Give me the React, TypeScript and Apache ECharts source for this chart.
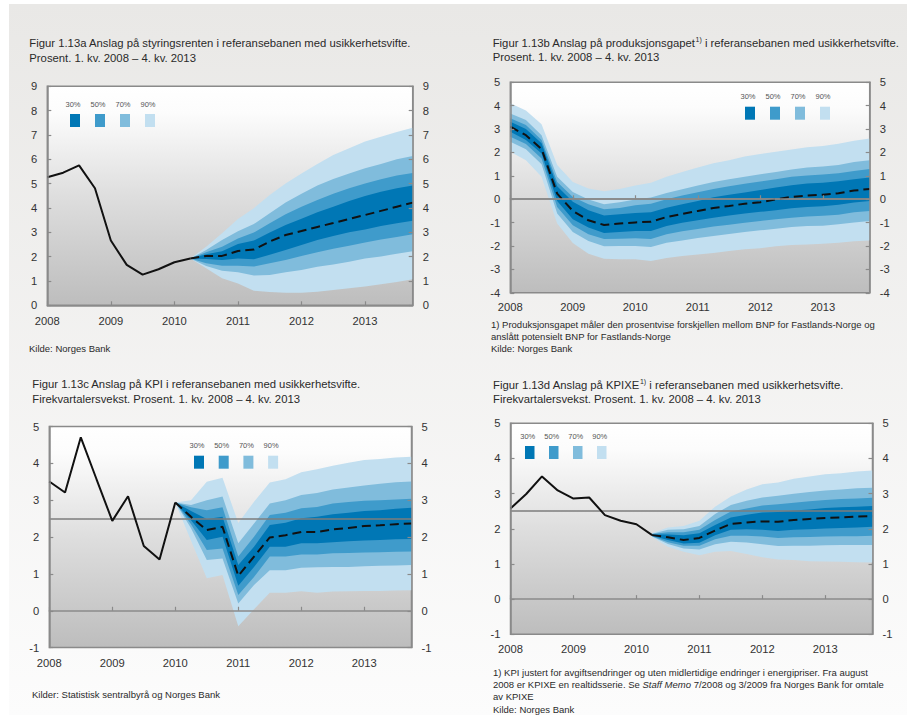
import React, { useEffect, useRef } from 'react';
import * as echarts from 'echarts';

const FONT = '"Liberation Sans", Arial, Helvetica, sans-serif';

const years = ['2008', '2009', '2010', '2011', '2012', '2013'];
const quarterNames = ['1. kv.', '2. kv.', '3. kv.', '4. kv.'];
const bandLabels = ['30%', '50%', '70%', '90%'];
const bandColors = ['#0077b5', '#3f9bcb', '#80bcdc', '#c2dff0'];

// Figur 1.13a – styringsrenten
const aHistory = [5.26, 5.45, 5.75, 4.81, 2.66, 1.66, 1.26, 1.48, 1.77, 1.92];
const aStart = 9;
const aMedian = [1.92, 2.03, 2.03, 2.23, 2.29, 2.62, 2.89, 3.05, 3.22, 3.38, 3.55, 3.71, 3.88, 4.05, 4.22];
const aUp90 = [1.92, 2.41, 2.96, 3.55, 3.99, 4.53, 5.01, 5.42, 5.81, 6.18, 6.45, 6.73, 6.93, 7.12, 7.30];
const aUp70 = [1.92, 2.27, 2.68, 3.04, 3.34, 3.78, 4.22, 4.58, 4.92, 5.19, 5.42, 5.63, 5.81, 6.00, 6.14];
const aUp50 = [1.92, 2.18, 2.41, 2.75, 2.99, 3.37, 3.74, 4.05, 4.33, 4.58, 4.81, 5.01, 5.18, 5.33, 5.44];
const aUp30 = [1.92, 2.10, 2.22, 2.52, 2.66, 2.99, 3.30, 3.56, 3.82, 4.05, 4.29, 4.49, 4.67, 4.81, 4.92];
const aLo30 = [1.92, 1.90, 1.86, 1.92, 1.89, 2.08, 2.27, 2.48, 2.68, 2.85, 3.00, 3.12, 3.26, 3.37, 3.47];
const aLo50 = [1.92, 1.73, 1.63, 1.63, 1.59, 1.73, 1.86, 2.03, 2.18, 2.32, 2.45, 2.58, 2.70, 2.81, 2.92];
const aLo70 = [1.92, 1.62, 1.42, 1.36, 1.22, 1.25, 1.36, 1.45, 1.58, 1.68, 1.79, 1.92, 2.01, 2.12, 2.22];
const aLo90 = [1.92, 1.52, 1.11, 0.90, 0.60, 0.55, 0.52, 0.52, 0.56, 0.63, 0.70, 0.77, 0.86, 0.96, 1.07];

// Figur 1.13b – produksjonsgapet
const bHistory: number[] = [];
const bStart = 0;
const bMedian = [3.10, 2.74, 2.15, 0.24, -0.50, -0.90, -1.10, -1.04, -0.99, -0.96, -0.76, -0.63, -0.50, -0.37, -0.29, -0.19, -0.13, 0.00, 0.10, 0.16, 0.19, 0.26, 0.37, 0.44];
const bUp90 = [4.10, 3.79, 3.21, 1.46, 0.74, 0.46, 0.34, 0.44, 0.59, 0.70, 0.96, 1.16, 1.36, 1.54, 1.67, 1.83, 1.93, 2.03, 2.13, 2.22, 2.28, 2.37, 2.50, 2.60];
const bUp70 = [3.67, 3.39, 2.74, 0.96, 0.31, -0.01, -0.21, -0.13, -0.01, 0.07, 0.27, 0.43, 0.59, 0.74, 0.86, 0.96, 1.07, 1.17, 1.27, 1.36, 1.40, 1.46, 1.59, 1.67];
const bUp50 = [3.46, 3.17, 2.53, 0.74, 0.10, -0.21, -0.43, -0.37, -0.26, -0.19, 0.00, 0.16, 0.30, 0.44, 0.56, 0.66, 0.76, 0.86, 0.96, 1.01, 1.06, 1.11, 1.21, 1.29];
const bUp30 = [3.31, 3.00, 2.39, 0.56, -0.11, -0.47, -0.69, -0.64, -0.59, -0.56, -0.36, -0.21, -0.07, 0.09, 0.19, 0.29, 0.39, 0.50, 0.60, 0.67, 0.71, 0.77, 0.86, 0.93];
const bLo30 = [2.89, 2.53, 1.96, -0.07, -0.86, -1.21, -1.44, -1.40, -1.36, -1.36, -1.14, -1.01, -0.90, -0.79, -0.70, -0.61, -0.54, -0.47, -0.39, -0.33, -0.30, -0.24, -0.14, -0.07];
const bLo50 = [2.67, 2.36, 1.74, -0.33, -1.11, -1.50, -1.70, -1.69, -1.67, -1.70, -1.50, -1.37, -1.27, -1.17, -1.09, -1.00, -0.93, -0.86, -0.79, -0.74, -0.71, -0.66, -0.56, -0.50];
const bLo70 = [2.46, 2.14, 1.50, -0.61, -1.40, -1.79, -2.01, -2.00, -2.00, -2.04, -1.86, -1.76, -1.66, -1.57, -1.49, -1.40, -1.33, -1.26, -1.19, -1.14, -1.13, -1.07, -0.99, -0.93];
const bLo90 = [2.03, 1.67, 0.96, -1.04, -1.87, -2.33, -2.54, -2.57, -2.57, -2.64, -2.51, -2.43, -2.36, -2.30, -2.21, -2.14, -2.09, -2.01, -1.96, -1.93, -1.90, -1.86, -1.80, -1.76];

// Figur 1.13c – KPI
const cHistory = [3.51, 3.21, 4.71, 3.57, 2.44, 3.11, 1.76, 1.39, 2.94];
const cStart = 8;
const cMedian = [2.94, 2.55, 2.19, 2.28, 0.95, 1.47, 1.99, 2.05, 2.14, 2.14, 2.21, 2.25, 2.30, 2.32, 2.35, 2.37];
const cUp90 = [2.94, 3.00, 3.50, 3.61, 2.38, 2.96, 3.48, 3.57, 3.76, 3.84, 3.94, 4.02, 4.09, 4.12, 4.16, 4.18];
const cUp70 = [2.94, 2.87, 3.00, 3.10, 1.83, 2.37, 2.91, 3.00, 3.14, 3.20, 3.29, 3.35, 3.40, 3.45, 3.49, 3.51];
const cUp50 = [2.94, 2.81, 2.73, 2.81, 1.47, 2.01, 2.60, 2.66, 2.78, 2.82, 2.91, 2.95, 2.99, 3.00, 3.02, 3.04];
const cUp30 = [2.94, 2.71, 2.49, 2.55, 1.24, 1.74, 2.33, 2.39, 2.51, 2.55, 2.62, 2.66, 2.71, 2.73, 2.77, 2.80];
const cLo30 = [2.94, 2.46, 1.92, 2.01, 0.68, 1.19, 1.74, 1.74, 1.83, 1.83, 1.86, 1.89, 1.91, 1.92, 1.94, 1.95];
const cLo50 = [2.94, 2.35, 1.65, 1.69, 0.43, 0.92, 1.47, 1.47, 1.53, 1.53, 1.56, 1.57, 1.58, 1.59, 1.60, 1.61];
const cLo70 = [2.94, 2.24, 1.38, 1.42, 0.20, 0.70, 1.10, 1.10, 1.17, 1.18, 1.19, 1.19, 1.21, 1.22, 1.23, 1.24];
const cLo90 = [2.94, 1.90, 0.88, 0.97, -0.42, 0.04, 0.49, 0.49, 0.53, 0.49, 0.52, 0.53, 0.54, 0.54, 0.55, 0.56];

// Figur 1.13d – KPIXE
const dHistory = [2.58, 2.99, 3.49, 3.09, 2.86, 2.89, 2.39, 2.23, 2.13, 1.82];
const dStart = 9;
const dMedian = [1.82, 1.76, 1.68, 1.74, 1.95, 2.14, 2.18, 2.21, 2.20, 2.25, 2.28, 2.31, 2.32, 2.35, 2.36];
const dUp90 = [1.88, 2.04, 2.08, 2.23, 2.63, 2.92, 3.12, 3.27, 3.32, 3.42, 3.49, 3.55, 3.58, 3.63, 3.66];
const dUp70 = [1.86, 1.97, 1.99, 2.08, 2.42, 2.68, 2.80, 2.89, 2.94, 3.00, 3.05, 3.09, 3.12, 3.15, 3.17];
const dUp50 = [1.85, 1.90, 1.90, 1.97, 2.25, 2.49, 2.58, 2.66, 2.70, 2.74, 2.78, 2.82, 2.85, 2.86, 2.88];
const dUp30 = [1.84, 1.84, 1.82, 1.87, 2.11, 2.32, 2.40, 2.46, 2.48, 2.52, 2.55, 2.59, 2.61, 2.63, 2.65];
const dLo30 = [1.80, 1.68, 1.58, 1.60, 1.82, 1.97, 1.99, 1.97, 1.94, 1.97, 1.99, 2.01, 2.02, 2.04, 2.06];
const dLo50 = [1.79, 1.62, 1.52, 1.52, 1.70, 1.80, 1.80, 1.78, 1.74, 1.76, 1.77, 1.78, 1.79, 1.79, 1.80];
const dLo70 = [1.78, 1.57, 1.44, 1.41, 1.56, 1.63, 1.61, 1.56, 1.51, 1.52, 1.52, 1.53, 1.54, 1.54, 1.54];
const dLo90 = [1.76, 1.49, 1.35, 1.25, 1.35, 1.37, 1.28, 1.19, 1.13, 1.11, 1.08, 1.07, 1.06, 1.05, 1.04];

const quarterCats = years.flatMap((y) => quarterNames.map((q) => `${q} ${y}`));

type Panel = {
  history: number[];
  start: number;
  median: number[];
  up: number[][]; // index 0 = 30%, 3 = 90%
  lo: number[][];
  refLine: number | null;
  yMin: number;
  yMax: number;
  grid: { left: number; top: number; width: number; height: number };
  xMargin: number;
  legend: { x: number; y: number; step: number; w: number };
};

const panels: Panel[] = [
  {
    history: aHistory, start: aStart, median: aMedian,
    up: [aUp30, aUp50, aUp70, aUp90], lo: [aLo30, aLo50, aLo70, aLo90],
    refLine: null, yMin: 0, yMax: 9,
    grid: { left: 47.3, top: 86.3, width: 365.4, height: 219 }, xMargin: 10,
    legend: { x: 70, y: 114, step: 25, w: 10 },
  },
  {
    history: bHistory, start: bStart, median: bMedian,
    up: [bUp30, bUp50, bUp70, bUp90], lo: [bLo30, bLo50, bLo70, bLo90],
    refLine: 0, yMin: -4, yMax: 5,
    grid: { left: 510.3, top: 82.3, width: 359.4, height: 210.5 }, xMargin: 8.5,
    legend: { x: 745, y: 106.7, step: 25, w: 10 },
  },
  {
    history: cHistory, start: cStart, median: cMedian,
    up: [cUp30, cUp50, cUp70, cUp90], lo: [cLo30, cLo50, cLo70, cLo90],
    refLine: 2.5, yMin: -1, yMax: 5,
    grid: { left: 49.3, top: 426.6, width: 362.2, height: 221 }, xMargin: 10,
    legend: { x: 194, y: 455.7, step: 24.7, w: 10 },
  },
  {
    history: dHistory, start: dStart, median: dMedian,
    up: [dUp30, dUp50, dUp70, dUp90], lo: [dLo30, dLo50, dLo70, dLo90],
    refLine: 2.5, yMin: -1, yMax: 5,
    grid: { left: 510.5, top: 423.3, width: 362, height: 211 }, xMargin: 9.5,
    legend: { x: 525, y: 446, step: 24, w: 9.5 },
  },
];

const TEXT = '#2a2a2a';
const AXIS = '#8a8a8a';

function txt(x: number, y: number, t: string, size: number, color = TEXT, extra: any = {}) {
  return {
    type: 'text', x, y, silent: true, z: 20,
    style: { text: t, fill: color, fontSize: size, fontFamily: FONT, align: 'left', verticalAlign: 'middle', ...extra },
  };
}

function richTxt(x: number, y: number, t: string, size: number, rich: any) {
  return {
    type: 'text', x, y, silent: true, z: 20,
    style: { text: t, fill: TEXT, fontSize: size, fontFamily: FONT, align: 'left', verticalAlign: 'middle', rich },
  };
}

const TITLE = 11.3;
const NOTE = 9.5;

const supRich = {
  n: { fontSize: TITLE, fontFamily: FONT, fill: TEXT, lineHeight: 14 },
  s: { fontSize: 7, fontFamily: FONT, fill: TEXT, verticalAlign: 'top', lineHeight: 14 },
};

const noteRich = {
  n: { fontSize: NOTE, fontFamily: FONT, fill: TEXT },
  i: { fontSize: NOTE, fontFamily: FONT, fill: TEXT, fontStyle: 'italic' },
};

export default function App() {
  const ref = useRef<HTMLDivElement>(null);
  useEffect(() => {
    if (!ref.current) return;
    const chart = echarts.init(ref.current, null, { renderer: 'svg' });

    const plotBg = {
      type: 'linear', x: 0, y: 0, x2: 0, y2: 1,
      colorStops: [
        { offset: 0, color: '#ffffff' },
        { offset: 0.12, color: '#fcfcfc' },
        { offset: 0.5, color: '#dedede' },
        { offset: 1, color: '#bdbdbd' },
      ],
    };

    const grid: any[] = [];
    const xAxis: any[] = [];
    const yAxis: any[] = [];
    const series: any[] = [];
    const graphics: any[] = [];

    graphics.push({
      type: 'rect', silent: true, z: 0,
      shape: { x: 9, y: 4, width: 898, height: 711 },
      style: {
        fill: {
          type: 'linear', x: 0, y: 0, x2: 0, y2: 1,
          colorStops: [
            { offset: 0, color: '#e9e8e6' },
            { offset: 1, color: '#fcfcfc' },
          ],
        },
      },
    });

    panels.forEach((p, i) => {
      grid.push({
        ...p.grid, show: true, backgroundColor: plotBg,
        borderColor: AXIS, borderWidth: 1.5, z: 1,
      });
      xAxis.push({
        type: 'category', gridIndex: i, data: quarterCats, boundaryGap: false, z: 6,
        axisLine: { show: true, lineStyle: { color: AXIS, width: 1.5 } },
        axisTick: { show: true, inside: true, length: 4, interval: 3, lineStyle: { color: AXIS, width: 1.2 } },
        axisLabel: {
          interval: 3, margin: p.xMargin, color: '#333', fontSize: 11.2, fontFamily: FONT,
          formatter: (v: string) => v.slice(-4),
        },
        splitLine: { show: false },
      });
      ['left', 'right'].forEach((pos) => {
        yAxis.push({
          type: 'value', gridIndex: i, position: pos, min: p.yMin, max: p.yMax, interval: 1, z: 6,
          axisLine: { show: true, lineStyle: { color: AXIS, width: 1.5 } },
          axisTick: { show: true, inside: true, length: 4, lineStyle: { color: AXIS, width: 1.2 } },
          axisLabel: { margin: 10, color: '#333', fontSize: 11.2, fontFamily: FONT },
          splitLine: { show: false },
        });
      });

      // Fan bands: outer (90%) first
      const order = [3, 2, 1, 0];
      series.push({
        type: 'custom', xAxisIndex: i, yAxisIndex: 2 * i, z: 2, silent: true,
        data: order.map((k) => [k, p.yMin]),
        encode: { x: 0, y: 1 },
        renderItem: (_params: any, api: any) => {
          const k = api.value(0) as number;
          const up = p.up[k];
          const lo = p.lo[k];
          const pts: number[][] = [];
          for (let j = 0; j < up.length; j++) pts.push(api.coord([p.start + j, up[j]]));
          for (let j = lo.length - 1; j >= 0; j--) pts.push(api.coord([p.start + j, lo[j]]));
          return { type: 'polygon', shape: { points: pts }, style: { fill: bandColors[k] } };
        },
      });

      if (p.history.length) {
        series.push({
          type: 'line', xAxisIndex: i, yAxisIndex: 2 * i, z: 5, silent: true,
          data: p.history, symbol: 'none',
          lineStyle: { color: '#111', width: 2 },
        });
      }

      series.push({
        type: 'line', xAxisIndex: i, yAxisIndex: 2 * i, z: 5, silent: true,
        data: p.median.map((v, k) => [p.start + k, v]), symbol: 'none',
        lineStyle: { color: '#111', width: 2, type: [9, 5] },
        markLine: p.refLine === null ? undefined : {
          silent: true, symbol: 'none', label: { show: false },
          lineStyle: { color: '#7d7d7d', width: 1.5, type: 'solid' },
          data: [{ yAxis: p.refLine }],
        },
      });

      // legend
      bandLabels.forEach((lab, k) => {
        const sx = p.legend.x + k * p.legend.step;
        graphics.push({
          type: 'rect', silent: true, z: 20,
          shape: { x: sx, y: p.legend.y, width: p.legend.w, height: 13 },
          style: { fill: bandColors[k] },
        });
        graphics.push(txt(sx + p.legend.w / 2 - 2, p.legend.y - 10, lab, 7.5, '#555', { align: 'center' }));
      });
    });

    // Titles
    graphics.push(txt(29.3, 42.7, 'Figur 1.13a Anslag på styringsrenten i referansebanen med usikkerhetsvifte.', TITLE));
    graphics.push(txt(29.3, 57.7, 'Prosent. 1. kv. 2008 – 4. kv. 2013', TITLE));
    graphics.push(richTxt(492.7, 42.7, '{n|Figur 1.13b Anslag på produksjonsgapet}{s|1)}{n| i referansebanen med usikkerhetsvifte.}', TITLE, supRich));
    graphics.push(txt(492.7, 57.3, 'Prosent. 1. kv. 2008 – 4. kv. 2013', TITLE));
    graphics.push(txt(32.3, 384, 'Figur 1.13c Anslag på KPI i referansebanen med usikkerhetsvifte.', TITLE));
    graphics.push(txt(32.3, 398.7, 'Firekvartalersvekst. Prosent. 1. kv. 2008 – 4. kv. 2013', TITLE));
    graphics.push(richTxt(493, 385, '{n|Figur 1.13d Anslag på KPIXE}{s|1)}{n| i referansebanen med usikkerhetsvifte.}', TITLE, supRich));
    graphics.push(txt(493, 399.3, 'Firekvartalersvekst. Prosent. 1. kv. 2008 – 4. kv. 2013', TITLE));

    // Notes and sources
    graphics.push(txt(29, 348.3, 'Kilde: Norges Bank', NOTE));
    graphics.push(txt(491, 324.3, '1) Produksjonsgapet måler den prosentvise forskjellen mellom BNP for Fastlands-Norge og', NOTE));
    graphics.push(txt(491, 336, 'anslått potensielt BNP for Fastlands-Norge', NOTE));
    graphics.push(txt(491, 348.3, 'Kilde: Norges Bank', NOTE));
    graphics.push(txt(32, 694.3, 'Kilder: Statistisk sentralbyrå og Norges Bank', NOTE));
    graphics.push(txt(493, 672.7, '1) KPI justert for avgiftsendringer og uten midlertidige endringer i energipriser. Fra august', NOTE));
    graphics.push(richTxt(493, 684.3, '{n|2008 er KPIXE en realtidsserie. Se }{i|Staff Memo}{n| 7/2008 og 3/2009 fra Norges Bank for omtale}', NOTE, noteRich));
    graphics.push(txt(493, 696, 'av KPIXE', NOTE));
    graphics.push(txt(493, 709.3, 'Kilde: Norges Bank', NOTE));

    chart.setOption({
      animation: false,
      backgroundColor: '#ffffff',
      grid, xAxis, yAxis, series,
      graphic: { elements: graphics },
    });
    return () => chart.dispose();
  }, []);
  return <div ref={ref} style={{ position: 'absolute', left: 0, top: 0, width: 914, height: 727 }} />;
}
